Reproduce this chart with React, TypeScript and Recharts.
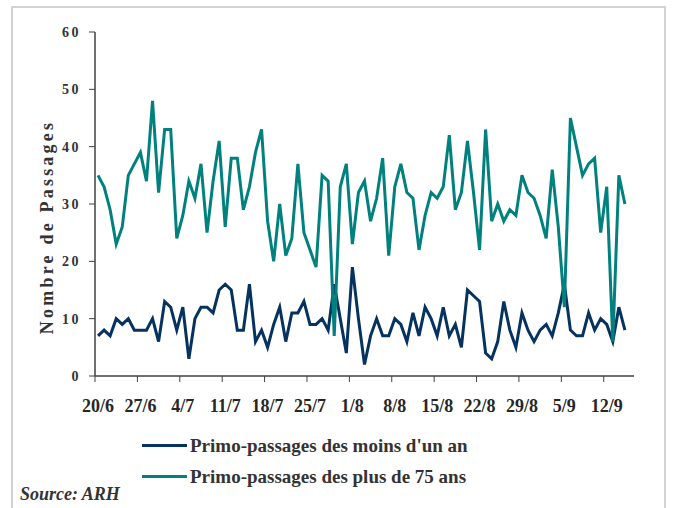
import React from "react"
import { LineChart, Line, XAxis, YAxis, Label } from "recharts"

// daily first visits, 20/6 -> 15/9
const moinsUnAn = [
  7, 8, 7, 10, 9, 10, 8, 8, 8, 10, 6, 13, 12, 8, 12, 3, 10, 12, 12, 11, 15, 16,
  15, 8, 8, 16, 6, 8, 5, 9, 12, 6, 11, 11, 13, 9, 9, 10, 8, 16, 10, 4, 19, 10,
  2, 7, 10, 7, 7, 10, 9, 6, 11, 7, 12, 10, 7, 12, 7, 9, 5, 15, 14, 13, 4, 3,
  6, 13, 8, 5, 11, 8, 6, 8, 9, 7, 11, 16, 8, 7, 7, 11, 8, 10, 9, 6, 12, 8,
]
const plus75 = [
  35, 33, 29, 23, 26, 35, 37, 39, 34, 48, 32, 43, 43, 24, 28, 34, 31, 37, 25, 34, 41, 26,
  38, 38, 29, 33, 39, 43, 27, 20, 30, 21, 24, 37, 25, 22, 19, 35, 34, 7, 33, 37, 23, 32,
  34, 27, 31, 38, 21, 33, 37, 32, 31, 22, 28, 32, 31, 33, 42, 29, 32, 41, 32, 22, 43, 27,
  30, 27, 29, 28, 35, 32, 31, 28, 24, 36, 26, 12, 45, 40, 35, 37, 38, 25, 33, 6, 35, 30,
]
const weekLabels = ["20/6", "27/6", "4/7", "11/7", "18/7", "25/7", "1/8", "8/8", "15/8", "22/8", "29/8", "5/9", "12/9"]
const yTicks = [0, 10, 20, 30, 40, 50, 60]

const NAVY = "#06325f"
const TEAL = "#00817d"
const SERIF = "'Liberation Serif', 'Times New Roman', serif"

const data = moinsUnAn.map((v, i) => ({ day: i, moins: v, plus: plus75[i] }))
// week boundaries sit half a day before each labelled day
const weekTicks = weekLabels.map((_, k) => k * 7 - 0.5)

const DateTick = (props: any) => {
  const { x, y, payload } = props
  const k = Math.round((payload.value + 0.5) / 7)
  return (
    <text x={x + 3} y={y + 30} textAnchor="middle" fontFamily={SERIF} fontWeight="bold" fontSize={18} fill="#262626">
      {weekLabels[k]}
    </text>
  )
}

const ValueTick = (props: any) => {
  const { x, y, payload } = props
  return (
    <text x={x} y={y} dy="0.36em" textAnchor="end" fontFamily={SERIF} fontWeight="bold" fontSize={14}
      letterSpacing={2.5} fill="#333">
      {payload.value}
    </text>
  )
}

const YTitle = (props: any) => {
  const vb = props.viewBox || { x: 35, y: 32, width: 60, height: 344 }
  const cx = vb.x + 18
  const cy = vb.y + vb.height / 2 + 23
  return (
    <text x={cx} y={cy} transform={`rotate(-90, ${cx}, ${cy})`} textAnchor="middle" fontFamily={SERIF}
      fontWeight="bold" fontSize={18} letterSpacing={3.2} fill="#333">
      Nombre de Passages
    </text>
  )
}

const legendItems = [
  { name: "Primo-passages des moins d'un an", color: NAVY },
  { name: "Primo-passages des plus de 75 ans", color: TEAL },
]

export default function App() {
  return (
    <div style={{ position: "absolute", left: 0, top: 0, width: 674, height: 508, overflow: "hidden", background: "#fff" }}>
      <div style={{ position: "absolute", left: 11, top: 6, width: 651, height: 560, border: "2px solid #d3d3d3" }} />
      <LineChart width={674} height={508} data={data} margin={{ top: 32, right: 40, left: 35, bottom: 92 }}>
        <XAxis
          dataKey="day"
          type="number"
          domain={[-0.5, 88.5]}
          ticks={weekTicks}
          interval={0}
          height={40}
          tickSize={6}
          tickMargin={0}
          tick={<DateTick />}
          axisLine={{ stroke: "#404040", strokeWidth: 1.5 }}
          tickLine={{ stroke: "#404040", strokeWidth: 1 }}
        />
        <YAxis
          type="number"
          domain={[0, 60]}
          ticks={yTicks}
          interval={0}
          width={60}
          tickSize={6}
          tickMargin={8}
          tick={<ValueTick />}
          axisLine={{ stroke: "#404040", strokeWidth: 1.5 }}
          tickLine={{ stroke: "#404040", strokeWidth: 1 }}
        >
          <Label content={<YTitle />} />
        </YAxis>
        <Line type="linear" dataKey="moins" name="Primo-passages des moins d'un an" stroke={NAVY} strokeWidth={3}
          dot={false} isAnimationActive={false} />
        <Line type="linear" dataKey="plus" name="Primo-passages des plus de 75 ans" stroke={TEAL} strokeWidth={3}
          dot={false} isAnimationActive={false} />
      </LineChart>
      <div style={{ position: "absolute", left: 142, top: 430, fontFamily: SERIF }}>
        {legendItems.map((it) => (
          <div key={it.name} style={{ display: "flex", alignItems: "center", height: 31 }}>
            <span style={{ display: "inline-block", width: 45, height: 3, background: it.color, marginRight: 3 }} />
            <span style={{ fontSize: 19, fontWeight: "bold", color: "#333", whiteSpace: "nowrap" }}>{it.name}</span>
          </div>
        ))}
      </div>
      <div style={{ position: "absolute", left: 20, top: 484, fontFamily: SERIF, fontStyle: "italic", fontWeight: "bold",
        fontSize: 18, color: "#333", whiteSpace: "nowrap" }}>
        Source: ARH
      </div>
    </div>
  )
}
